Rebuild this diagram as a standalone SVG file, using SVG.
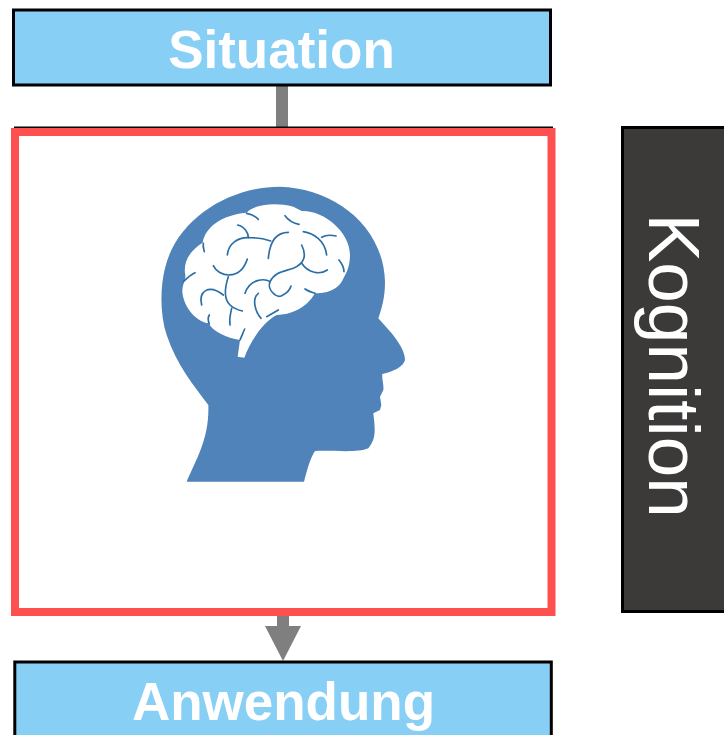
<svg xmlns="http://www.w3.org/2000/svg" width="724" height="735" viewBox="0 0 724 735">
<style>
.box{fill:#87CFF5;stroke:#000;stroke-width:3}
.title{font-family:"Liberation Sans",Arial,sans-serif;font-weight:700;font-size:53px;fill:#fff;text-anchor:middle}
.conn{stroke:#7f7f7f;stroke-width:12;fill:none}
.fold{fill:none;stroke:#2a6ea6;stroke-width:5;stroke-linecap:round}
</style>
<defs>
<marker id="arrow" markerUnits="userSpaceOnUse" markerWidth="36" markerHeight="36" refX="0" refY="18" orient="auto"><path d="M0 0L35 18L0 36Z" fill="#7f7f7f"/></marker>
</defs>
<rect width="724" height="735" fill="#fff"/>
<g id="connectors">
<line class="conn" x1="282" y1="85" x2="282" y2="128"/>
<line class="conn" x1="283" y1="612" x2="283" y2="626" marker-end="url(#arrow)"/>
</g>
<g id="situation">
<rect class="box" x="13.5" y="10" width="537" height="75"/>
<text class="title" x="281.5" y="68">Situation</text>
</g>
<g id="kognition-frame">
<rect x="14" y="126.5" width="539" height="2" fill="#000"/>
<rect x="15" y="132" width="536.5" height="480" fill="#fff" stroke="#FF5050" stroke-width="8"/>
</g>
<g id="head" transform="translate(150 175) scale(.33333)">
<path fill="#4F83B9" d="M110 920C140 850 178 790 175 690C130 630 80 570 50 480C30 420 30 340 45 280C80 130 240 35 390 35C550 40 700 150 705 320C705 370 695 400 685 430L725 475C745 500 765 530 765 555C760 575 730 590 697 597C695 610 702 630 700 645L690 665L694 690L690 705L670 715C675 760 680 790 655 820C620 835 550 825 495 828C480 850 470 890 462 920Z"/>
<path fill="#fff" d="M263 545C266 525 268 510 270 495C230 490 190 470 175 445C130 435 100 390 97 350C97 325 110 312 105 295C100 250 130 220 158 203C165 160 210 120 290 113C310 90 370 80 430 95L455 108C520 105 600 170 600 240C600 280 585 300 578 315C560 350 520 355 495 355C470 400 420 420 380 420C340 440 300 500 283 548Z"/>
<g class="fold">
<path d="M290 115C305 118 318 125 325 133"/>
<path d="M405 122C415 135 430 145 447 148"/>
<path d="M263 150C285 155 295 175 295 188"/>
<path d="M232 240C235 205 265 185 300 188C320 188 345 192 362 198"/>
<path d="M415 172C385 172 360 190 355 250"/>
<path d="M460 170C490 175 525 195 530 240"/>
<path d="M515 187C530 178 545 180 558 183"/>
<path d="M455 210C470 240 465 265 430 280C400 290 375 290 360 320C345 310 300 310 285 355"/>
<path d="M360 320C350 345 380 370 395 362C410 355 420 345 423 333"/>
<path d="M455 265C475 295 510 300 532 285"/>
<path d="M190 272C205 305 270 320 292 252"/>
<path d="M235 305C225 335 220 370 240 390C250 400 265 405 277 408"/>
<path d="M245 400C240 420 238 435 240 450"/>
<path d="M155 390C145 350 175 325 220 360"/>
<path d="M135 293C120 300 110 310 100 320"/>
<path d="M160 205C158 215 162 225 163 230"/>
<path d="M178 420C172 430 175 440 178 447"/>
<path d="M325 355C305 370 315 410 333 430"/>
<path d="M284 462C280 470 275 485 270 495"/>
<path d="M385 405L350 425"/>
<path d="M465 342C475 350 490 353 495 355"/>
<path d="M567 255C575 265 582 275 582 290"/>
</g>
</g>
<g id="anwendung">
<rect class="box" x="14.8" y="662" width="536.5" height="80"/>
<text class="title" x="283.5" y="720">Anwendung</text>
</g>
<g id="kognition">
<rect x="622.5" y="127.5" width="110" height="484" fill="#3B3A39" stroke="#000" stroke-width="3"/>
<text transform="translate(649 213.5) rotate(90)" font-family="'Liberation Sans',Arial,sans-serif" font-size="73" fill="#fff">Kognition</text>
</g>
</svg>
